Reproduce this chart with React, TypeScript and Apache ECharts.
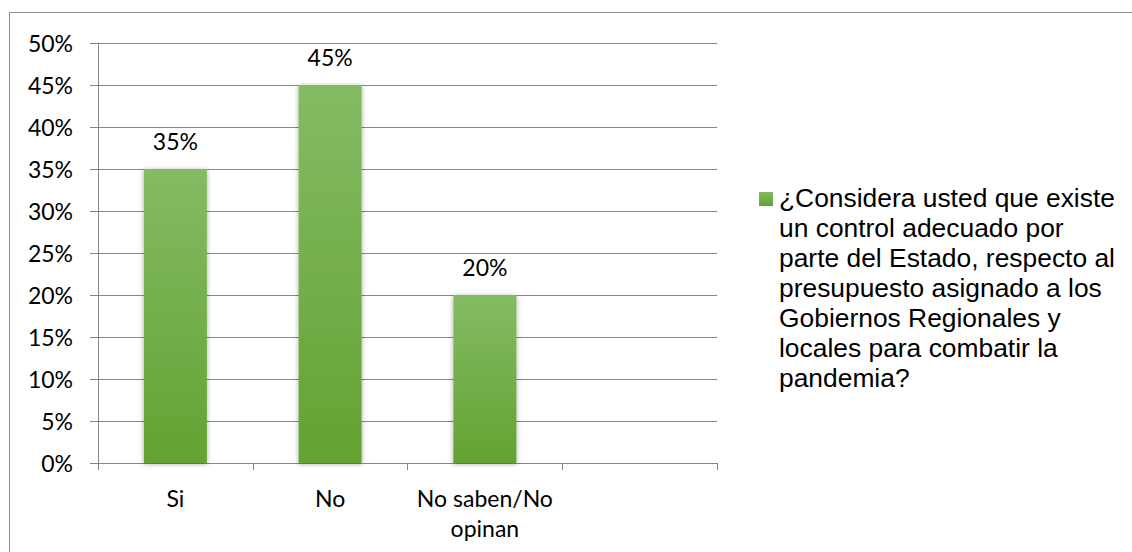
import React, { useEffect, useRef } from "react";
import * as echarts from "echarts";

const categories = ["Si", "No", "No saben/No opinan", ""];
const values = [35, 45, 20];
const yMin = 0;
const yMax = 50;
const yStep = 5;
const seriesName =
  "¿Considera usted que existe un control adecuado por parte del Estado, respecto al presupuesto asignado a los Gobiernos Regionales y locales para combatir la pandemia?";
const legendLines = [
  "¿Considera usted que existe",
  "un control adecuado por",
  "parte del Estado, respecto al",
  "presupuesto asignado a los",
  "Gobiernos Regionales y",
  "locales para combatir la",
  "pandemia?",
];

export default function App() {
  const ref = useRef<HTMLDivElement>(null);
  useEffect(() => {
    if (!ref.current) return;
    const chart = echarts.init(ref.current, null, { renderer: "svg" });
    const barGradient = new echarts.graphic.LinearGradient(0, 0, 0, 1, [
      { offset: 0, color: "#84BB64" },
      { offset: 1, color: "#62A332" },
    ]);
    const axisFont = { fontFamily: "Lato", fontSize: 23, color: "#000" };
    chart.setOption({
      animation: false,
      backgroundColor: "#fff",
      grid: { left: 98, right: 415, top: 43, bottom: 89, containLabel: false },
      xAxis: {
        type: "category",
        data: categories,
        boundaryGap: true,
        axisLine: { show: true, lineStyle: { color: "#868686", width: 1 } },
        axisTick: { show: true, length: 7, alignWithLabel: false, lineStyle: { color: "#868686" } },
        axisLabel: {
          ...axisFont,
          margin: 20,
          lineHeight: 30,
          interval: 0,
          formatter: (v: string) => v.replace("/No ", "/No\n"),
        },
        splitLine: { show: false },
      },
      yAxis: {
        type: "value",
        min: yMin,
        max: yMax,
        interval: yStep,
        axisLine: { show: true, lineStyle: { color: "#868686", width: 1 } },
        axisTick: { show: true, length: 8, lineStyle: { color: "#868686" } },
        axisLabel: { ...axisFont, margin: 25, formatter: "{value}%" },
        splitLine: { show: true, lineStyle: { color: "#868686", width: 1 } },
      },
      legend: {
        show: true,
        data: [seriesName],
        orient: "vertical",
        left: 760,
        top: 183,
        padding: 0,
        icon: "none",
        itemWidth: 14,
        itemHeight: 14,
        selectedMode: false,
        formatter: () => legendLines.join("\n"),
        textStyle: {
          fontFamily: "Liberation Sans",
          fontSize: 26.4,
          lineHeight: 30,
          color: "#000",
        },
      },
      series: [
        {
          name: seriesName,
          type: "bar",
          data: values,
          barWidth: 63,
          itemStyle: {
            color: barGradient,
            shadowBlur: 5,
            shadowColor: "rgba(0,0,0,0.35)",
            shadowOffsetX: 0,
            shadowOffsetY: 1,
          },
          label: {
            show: true,
            position: "top",
            distance: 17,
            formatter: "{c}%",
            ...axisFont,
          },
        },
      ],
      graphic: [
        {
          type: "rect",
          silent: true,
          shape: { x: 9.5, y: 12.5, width: 1300, height: 700 },
          style: { fill: "none", stroke: "#8e8e8e", lineWidth: 1 },
        },
        {
          type: "rect",
          silent: true,
          shape: { x: 759, y: 192, width: 14, height: 14 },
          style: { fill: barGradient },
        },
      ],
    });
    return () => chart.dispose();
  }, []);
  return (
    <div
      ref={ref}
      style={{ position: "fixed", left: 0, top: 0, width: 1132, height: 552 }}
    />
  );
}
